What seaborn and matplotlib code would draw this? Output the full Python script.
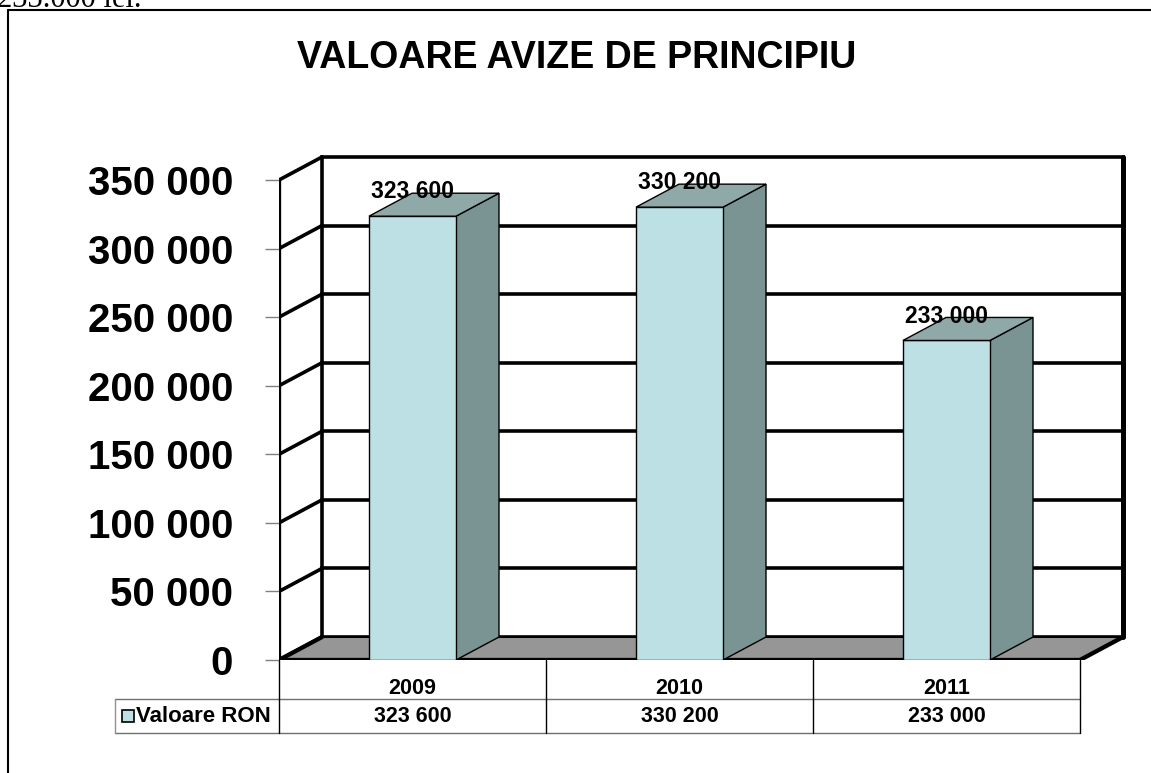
import pandas as pd
import seaborn as sns
import matplotlib.pyplot as plt
from matplotlib.patches import Polygon, Rectangle
from matplotlib.lines import Line2D


years = ['2009', '2010', '2011']
values = [323600, 330200, 233000]
yticks = [0, 50000, 100000, 150000, 200000, 250000, 300000, 350000]
seriesName = 'Valoare RON'
titleStr = 'VALOARE AVIZE DE PRINCIPIU'
topText = '233.000 lei.'

frontCol = '#BCE0E4'
topCol = '#8FA8A8'
sideCol = '#7A9494'
floorCol = '#969696'


def fmt(v):
    return f'{v:,}'.replace(',', ' ')


W, H = 1151, 773
# pixel layout of the front plane
x0, x1 = 279, 1080
y0, yTop = 660, 180
pxCat = (x1 - x0) / 3
pxVal = (y0 - yTop) / 350000
# oblique depth offset, converted to data units
dx = 43 / pxCat
dy = 23 / pxVal

xlim = (-0.5, 2.5 + dx + 0.05)
ylim = (0, 350000 + dy + 3000)

sns.set_style('white')
plt.rcParams['font.family'] = ['Liberation Sans', 'DejaVu Sans']
plt.rcParams['text.color'] = 'black'
plt.rcParams['ytick.labelcolor'] = 'black'

fig = plt.figure(figsize=(W / 100, H / 100), dpi=100)
ax = fig.add_axes([x0 / W, (H - y0) / H,
                   (xlim[1] - xlim[0]) * pxCat / W,
                   (ylim[1] - ylim[0]) * pxVal / H])

df = pd.DataFrame({'year': years, 'value': values})
sns.barplot(data=df, x='year', y='value', color=frontCol, saturation=1,
            width=87 / pxCat, edgecolor='black', linewidth=1, ax=ax, zorder=6)

ax.set_xlim(xlim)
ax.set_ylim(ylim)
for s in ax.spines.values():
    s.set_visible(False)

lw = 2.6
# back wall + left wall
for t in yticks:
    ax.plot([-0.5 + dx, 2.5 + dx], [t + dy, t + dy], color='k', lw=lw, zorder=1,
            solid_capstyle='projecting')
    ax.plot([-0.5, -0.5 + dx], [t, t + dy], color='k', lw=lw, zorder=1)
ax.plot([-0.5 + dx] * 2, [dy, 350000 + dy], color='k', lw=lw, zorder=1)
ax.plot([2.5 + dx] * 2, [dy, 350000 + dy], color='k', lw=lw + 1, zorder=1)

# floor
ax.add_patch(Polygon([(-0.5, 0), (2.5, 0), (2.5 + dx, dy), (-0.5 + dx, dy)],
                     closed=True, fc=floorCol, ec='k', lw=1.5, zorder=2))
ax.plot([-0.5, 2.5], [0, 0], color='k', lw=lw + 0.5, zorder=3)
ax.plot([2.5, 2.5 + dx], [0, dy], color='k', lw=lw + 0.5, zorder=3)
ax.plot([-0.5, -0.5 + dx], [0, dy], color='k', lw=lw + 0.5, zorder=3)
ax.plot([-0.5, -0.5], [0, 350000], color='k', lw=lw + 0.5, zorder=3)

# side and top faces of the bars
for bar, v in zip(ax.patches[:len(values)], values):
    bl = bar.get_x()
    br = bl + bar.get_width()
    h = bar.get_height()
    ax.add_patch(Polygon([(br, 0), (br + dx, dy), (br + dx, h + dy), (br, h)],
                         closed=True, fc=sideCol, ec='k', lw=1, zorder=5))
    ax.add_patch(Polygon([(bl, h), (br, h), (br + dx, h + dy), (bl + dx, h + dy)],
                         closed=True, fc=topCol, ec='k', lw=1, zorder=6))
    ax.text(bl + bar.get_width() / 2, h + dy + 1000, fmt(v), ha='center', va='center',
            fontsize=16.5, fontweight='bold', color='black', zorder=10)

ax.set_yticks(yticks)
ax.set_yticklabels([fmt(t) for t in yticks], fontsize=29, fontweight='bold')
ax.tick_params(axis='y', length=10, width=1, color='#808080', labelcolor='black',
               pad=23, left=True)
ax.set_xticks([])
ax.set_xlabel('')
ax.set_ylabel('')

# data table under the axis
r1 = -39 / pxVal
r2 = -73 / pxVal
xHead = -0.5 + (115 - x0) / pxCat
ax.plot([xHead, 2.5], [r1, r1], color='#707070', lw=1, clip_on=False)
ax.plot([xHead, 2.5], [r2, r2], color='#707070', lw=1, clip_on=False)
ax.plot([xHead, xHead], [r1, r2], color='#909090', lw=1, clip_on=False)
for xc in [-0.5, 0.5, 1.5, 2.5]:
    ax.plot([xc, xc], [0, r2], color='k', lw=1, clip_on=False)
for i, (yr, v) in enumerate(zip(years, values)):
    ax.text(i, -28 / pxVal, yr, ha='center', va='center', fontsize=15.5,
            fontweight='bold', color='black', clip_on=False)
    ax.text(i, (r1 + r2) / 2, fmt(v), ha='center', va='center', fontsize=15.5,
            fontweight='bold', color='black', clip_on=False)
ax.add_patch(Rectangle((-0.5 + (122 - x0) / pxCat, (r1 + r2) / 2 - 6 / pxVal),
                       12 / pxCat, 12 / pxVal, fc=frontCol, ec='k', lw=1.2,
                       clip_on=False))
ax.text(-0.5 + (136 - x0) / pxCat, (r1 + r2) / 2, seriesName, ha='left', va='center',
        fontsize=16, fontweight='bold', color='black', clip_on=False)

# title, frame and the cut-off line above the chart
fig.text(577 / W, 1 - 68 / H, titleStr, ha='center', va='baseline', fontsize=27,
         fontweight='bold', color='black')
fig.text(-3 / W, 1 - 7 / H, topText, ha='left', va='baseline', fontsize=22,
         color='black', family=['Liberation Serif', 'DejaVu Serif'])
fig.add_artist(Line2D([8 / W, 1], [1 - 10 / H] * 2, color='k', lw=1.5))
fig.add_artist(Line2D([8 / W] * 2, [0, 1 - 10 / H], color='k', lw=1.5))

fig.savefig('out.png', dpi=100)
